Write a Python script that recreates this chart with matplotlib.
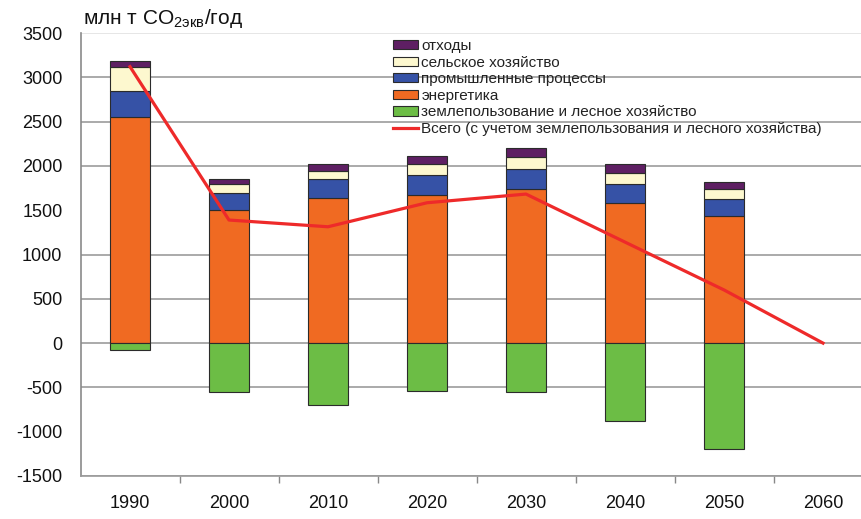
import numpy as np
import matplotlib
matplotlib.use("Agg")
import matplotlib.pyplot as plt
from matplotlib.patches import Patch
from matplotlib.lines import Line2D

plt.rcParams["font.family"] = ["Liberation Sans", "DejaVu Sans"]
plt.rcParams["mathtext.fontset"] = "custom"
plt.rcParams["mathtext.rm"] = "Liberation Sans"
plt.rcParams["axes.unicode_minus"] = False

years = ["1990", "2000", "2010", "2020", "2030", "2040", "2050", "2060"]
energy      = [2555, 1498, 1641, 1668, 1739, 1577, 1436]
industry    = [290, 199, 207, 225, 226, 223, 186]
agriculture = [275, 95, 98, 125, 139, 120, 115]
waste       = [64, 56, 72, 93, 101, 98, 85]
lulucf      = [-75, -550, -704, -542, -550, -877, -1200]
total_net   = [3120, 1389, 1313, 1584, 1682, 1140, 600, 0]

labels = ["отходы", "сельское хозяйство", "промышленные процессы",
          "энергетика", "землепользование и лесное хозяйство",
          "Всего (с учетом землепользования и лесного хозяйства)"]
C_WASTE, C_AGRI, C_IND, C_EN, C_LU, C_RED = "#5e1f63", "#fdf8cf", "#3652a6", "#f06a22", "#6cbd45", "#ee2a2a"

W, H = 861, 519
fig = plt.figure(figsize=(W / 100, H / 100), dpi=100)
ax = fig.add_axes([80.5 / W, (H - 476) / H, 792 / W, 443 / H])

x = np.arange(len(energy))
bw = 0.4
ek = dict(edgecolor="#2b2b2b", linewidth=0.8, zorder=3)
en = np.array(energy); ind = np.array(industry); ag = np.array(agriculture)
ax.bar(x, energy, bw, color=C_EN, **ek)
ax.bar(x, industry, bw, bottom=en, color=C_IND, **ek)
ax.bar(x, agriculture, bw, bottom=en + ind, color=C_AGRI, **ek)
ax.bar(x, waste, bw, bottom=en + ind + ag, color=C_WASTE, **ek)
ax.bar(x, lulucf, bw, color=C_LU, **ek)

ax.plot(np.arange(len(total_net)), total_net, color=C_RED, lw=2.3, zorder=4,
        solid_joinstyle="round")

ax.set_xlim(-0.5, len(years) - 0.5)
ax.set_ylim(-1500, 3500)
ax.set_yticks(np.arange(-1500, 3501, 500))
ax.tick_params(axis="y", length=0, pad=13, labelsize=13, labelcolor="#111111")

ax.set_xticks(np.arange(len(years)))
ax.set_xticklabels(years)
ax.set_xticks(np.arange(len(years)) + 0.5, minor=True)
ax.tick_params(axis="x", which="major", length=0, pad=14, labelsize=13, labelcolor="#111111")
ax.tick_params(axis="x", which="minor", length=5, width=1, color="#888888", direction="out")

ax.yaxis.grid(True, color="#9c9c9c", lw=1.2, zorder=0)
ax.set_axisbelow(True)
for val, gl in zip(ax.get_yticks(), ax.get_ygridlines()):
    if val in (1500, -1000):
        gl.set_visible(False)
    elif val == 3500:
        gl.set_color("#e2e2e2")

for s in ("top", "right"):
    ax.spines[s].set_visible(False)
ax.spines["left"].set_color("#8a8a8a")
ax.spines["left"].set_linewidth(1.2)
ax.spines["bottom"].set_color("#9a9a9a")
ax.spines["bottom"].set_linewidth(1.2)

fig.text(83 / W, 1 - 24 / H, r"млн т CO$_{\mathrm{2экв}}$/год", fontsize=15,
         color="#111111", va="baseline", ha="left")

handles = [Patch(facecolor=c, edgecolor="#2b2b2b", linewidth=0.8)
           for c in (C_WASTE, C_AGRI, C_IND, C_EN, C_LU)]
handles.append(Line2D([], [], color=C_RED, lw=2.3))
fig.legend(handles, labels, loc="upper left", bbox_to_anchor=(393 / W, 1 - 39 / H),
           bbox_transform=fig.transFigure, frameon=False, fontsize=11,
           borderpad=0, borderaxespad=0, handlelength=1.65, handleheight=0.55,
           handletextpad=0.2, labelspacing=0.17, labelcolor="#222222")

fig.savefig("out.png", dpi=100)
